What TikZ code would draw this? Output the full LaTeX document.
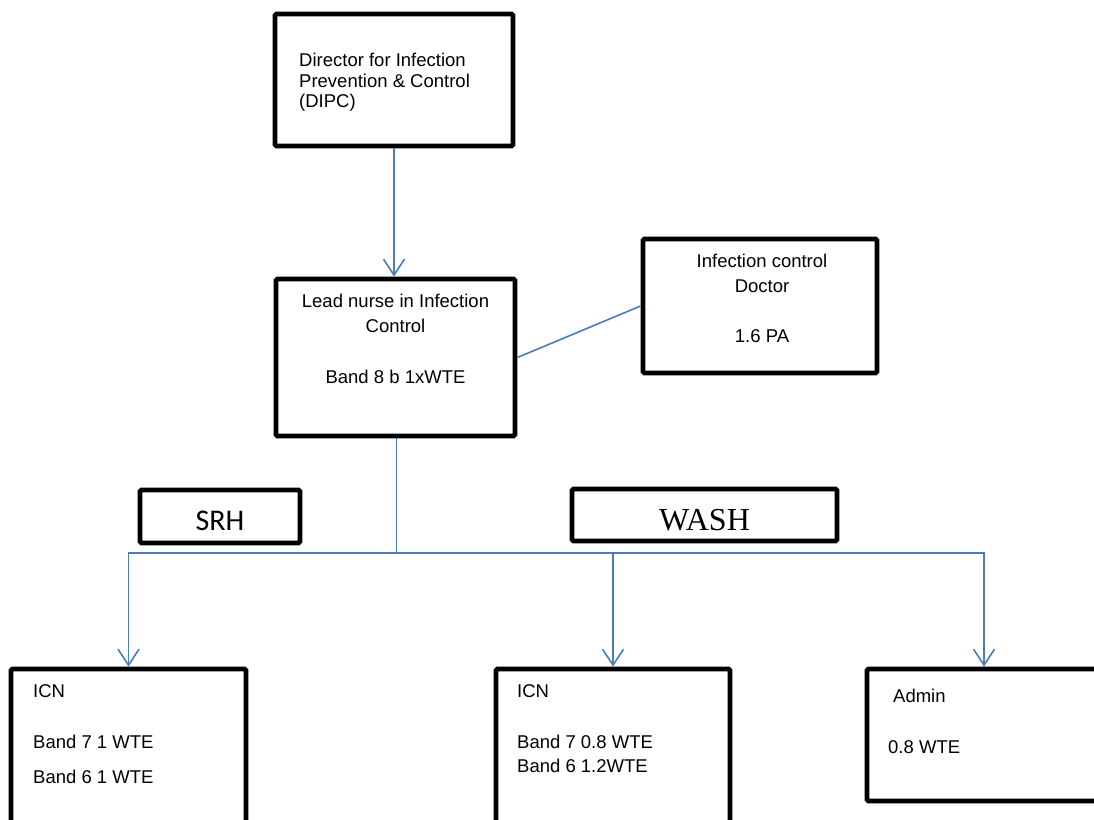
\documentclass[tikz,border=0pt]{standalone}
\usepackage{fontspec}
\setmainfont{Liberation Sans}
\newfontfamily\srhfont{Carlito}
\newfontfamily\washfont{Liberation Serif}
\usetikzlibrary{arrows.meta}
\definecolor{linkblue}{RGB}{74,126,187}
\tikzset{
  orgbox/.style={draw=black, line width=4.8pt, rounded corners=1.5pt, fill=white, inner sep=0pt},
  lbl/.style={inner sep=0pt, font=\fontsize{18.5}{20}\selectfont},
  link/.style={draw=linkblue, line width=1.6pt},
  down/.style={link, -{Straight Barb[length=16pt,width=21pt]}},
}
\begin{document}
\begin{tikzpicture}[x=1pt,y=-1pt]
\useasboundingbox (0,0) rectangle (1094,819);
\clip (0,0) rectangle (1094,819);
\fill[white] (0,0) rectangle (1094,819);

% boxes
\node[orgbox, minimum width=238pt, minimum height=132pt] (dipc) at (394,80) {};
\node[orgbox, minimum width=239pt, minimum height=157pt] (lead) at (395.5,357.5) {};
\node[orgbox, minimum width=234pt, minimum height=134pt] (doc) at (760,306) {};
\node[orgbox, minimum width=160pt, minimum height=53pt] (srh) at (220,516.5) {};
\node[orgbox, minimum width=265pt, minimum height=52pt] (wash) at (704.5,515) {};
\node[orgbox, minimum width=235pt, minimum height=200pt] (icn1) at (128.5,769) {};
\node[orgbox, minimum width=234pt, minimum height=200pt] (icn2) at (613,769) {};
\node[orgbox, minimum width=234pt, minimum height=132pt] (admin) at (984,735) {};

% box texts
\node[lbl, anchor=base west] (dipc-1) at (299,66) {Director for Infection};
\node[lbl, anchor=base west] (dipc-2) at (299,87) {Prevention \& Control};
\node[lbl, anchor=base west] (dipc-3) at (299,107) {(DIPC)};

\node[lbl, anchor=base] (lead-1) at (395.5,307) {Lead nurse in Infection};
\node[lbl, anchor=base] (lead-2) at (395.5,332) {Control};
\node[lbl, anchor=base] (lead-3) at (395.5,383) {Band 8 b 1xWTE};

\node[lbl, anchor=base] (doc-1) at (762,267) {Infection control};
\node[lbl, anchor=base] (doc-2) at (762,292) {Doctor};
\node[lbl, anchor=base] (doc-3) at (762,342) {1.6 PA};

\node[inner sep=0pt, anchor=base, font=\srhfont\fontsize{30}{30}\selectfont] (srh-t) at (220,530) {SRH};
\node[inner sep=0pt, anchor=base, font=\washfont\fontsize{32}{32}\selectfont] (wash-t) at (704.5,530) {WASH};

\node[lbl, anchor=base west] (icn1-1) at (33,697) {ICN};
\node[lbl, anchor=base west] (icn1-2) at (33,748) {Band 7 1 WTE};
\node[lbl, anchor=base west] (icn1-3) at (33,783) {Band 6 1 WTE};

\node[lbl, anchor=base west] (icn2-1) at (517,697) {ICN};
\node[lbl, anchor=base west] (icn2-2) at (517,748) {Band 7 0.8 WTE};
\node[lbl, anchor=base west] (icn2-3) at (517,772) {Band 6 1.2WTE};

\node[lbl, anchor=base west] (admin-1) at (893,702) {Admin};
\node[lbl, anchor=base west] (admin-2) at (888,753) {0.8 WTE};

% connectors
\draw[down] (dipc.south) -- (dipc.south |- lead.north);
\draw[link] (lead.east) -- (doc.west);
\coordinate (bus) at (396.5,553);
\draw[link] (lead.south -| bus) -- (bus);
\draw[down] (bus) -| (icn1.north);
\draw[down] (bus) -| (icn2.north);
\draw[down] (bus) -| (admin.north);
\end{tikzpicture}
\end{document}
